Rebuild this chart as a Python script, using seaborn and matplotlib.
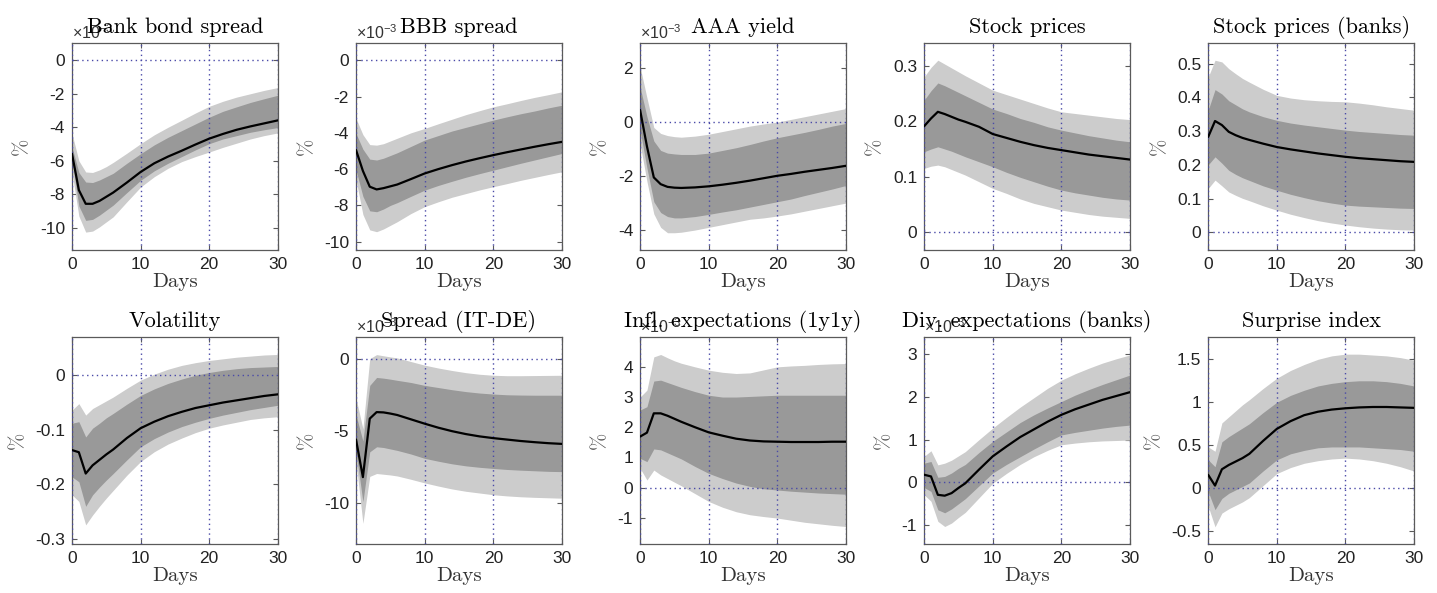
import numpy as np
import pandas as pd
import matplotlib
matplotlib.use("Agg")
import matplotlib.pyplot as plt
import seaborn as sns
from matplotlib.ticker import FuncFormatter

# ---------------- data ----------------
days = [0, 1, 2, 3, 4, 5, 6, 8, 10, 12, 14, 16, 18, 20, 22, 24, 26, 28, 30]

titles = ["Bank bond spread", "BBB spread", "AAA yield", "Stock prices", "Stock prices (banks)",
          "Volatility", "Spread (IT-DE)", "Infl. expectations (1y1y)", "Div. expectations (banks)",
          "Surprise index"]
exponents = [-3, -3, -3, None, None, None, -3, -3, -3, None]

# panel 1: Bank bond spread (x1e-3)
bank_mean = [-5.58, -7.75, -8.57, -8.57, -8.4, -8.15, -7.9, -7.3, -6.67, -6.15, -5.75, -5.4, -5.03, -4.68, -4.4, -4.15, -3.95, -3.77, -3.59]
bank_u68 = [-5.18, -6.7, -7.27, -7.3, -7.15, -6.95, -6.75, -6.15, -5.58, -5.05, -4.6, -4.2, -3.8, -3.4, -3.05, -2.78, -2.52, -2.3, -2.09]
bank_l68 = [-5.98, -8.7, -9.56, -9.5, -9.25, -8.95, -8.65, -7.9, -7.17, -6.6, -6.15, -5.75, -5.35, -4.98, -4.7, -4.5, -4.3, -4.15, -4.02]
bank_u90 = [-4.38, -6.0, -6.67, -6.7, -6.55, -6.35, -6.1, -5.55, -4.98, -4.45, -4.0, -3.58, -3.15, -2.75, -2.45, -2.2, -2.0, -1.8, -1.63]
bank_l90 = [-6.67, -9.3, -10.26, -10.2, -9.95, -9.65, -9.35, -8.45, -7.57, -6.95, -6.45, -6.05, -5.75, -5.48, -5.2, -4.95, -4.7, -4.5, -4.34]

# panel 2: BBB spread (x1e-3)
bbb_mean = [-4.95, -6.1, -6.97, -7.12, -7.05, -6.95, -6.85, -6.55, -6.24, -6.0, -5.78, -5.58, -5.4, -5.23, -5.07, -4.92, -4.77, -4.63, -4.5]
bbb_u68 = [-4.04, -4.9, -5.45, -5.5, -5.4, -5.25, -5.1, -4.75, -4.4, -4.15, -3.9, -3.7, -3.5, -3.3, -3.12, -2.95, -2.8, -2.63, -2.48]
bbb_l68 = [-6.06, -7.5, -8.3, -8.35, -8.2, -8.0, -7.85, -7.5, -7.16, -6.9, -6.67, -6.45, -6.25, -6.06, -5.87, -5.68, -5.5, -5.32, -5.14]
bbb_u90 = [-3.21, -4.1, -4.65, -4.68, -4.6, -4.45, -4.3, -4.0, -3.76, -3.5, -3.25, -3.0, -2.78, -2.57, -2.4, -2.22, -2.05, -1.9, -1.74]
bbb_l90 = [-6.6, -8.5, -9.35, -9.45, -9.3, -9.1, -8.9, -8.45, -8.07, -7.8, -7.55, -7.35, -7.15, -6.97, -6.8, -6.62, -6.46, -6.3, -6.15]

# panel 3: AAA yield (x1e-3)
aaa_mean = [0.45, -0.9, -2.05, -2.3, -2.4, -2.43, -2.44, -2.42, -2.38, -2.32, -2.25, -2.17, -2.08, -1.99, -1.92, -1.84, -1.77, -1.7, -1.62]
aaa_u68 = [1.3, 0.2, -0.7, -1.05, -1.15, -1.18, -1.2, -1.2, -1.15, -1.05, -0.95, -0.83, -0.7, -0.58, -0.48, -0.38, -0.27, -0.15, -0.05]
aaa_l68 = [-0.3, -1.7, -2.95, -3.35, -3.5, -3.55, -3.55, -3.5, -3.42, -3.33, -3.25, -3.15, -3.05, -2.95, -2.85, -2.72, -2.6, -2.48, -2.35]
aaa_u90 = [2.05, 0.9, -0.2, -0.42, -0.5, -0.54, -0.56, -0.52, -0.45, -0.35, -0.25, -0.15, -0.07, 0.0, 0.1, 0.2, 0.3, 0.4, 0.5]
aaa_l90 = [-0.8, -2.2, -3.4, -3.9, -4.1, -4.1, -4.08, -4.0, -3.9, -3.8, -3.7, -3.6, -3.55, -3.48, -3.4, -3.3, -3.2, -3.1, -3.0]

# panel 4: Stock prices
stk_mean = [0.191, 0.205, 0.217, 0.213, 0.208, 0.203, 0.199, 0.190, 0.177, 0.170, 0.163, 0.157, 0.152, 0.148, 0.144, 0.140, 0.137, 0.134, 0.131]
stk_u68 = [0.238, 0.255, 0.269, 0.264, 0.258, 0.252, 0.246, 0.234, 0.222, 0.214, 0.205, 0.198, 0.190, 0.184, 0.179, 0.174, 0.170, 0.166, 0.163]
stk_l68 = [0.145, 0.150, 0.154, 0.150, 0.146, 0.141, 0.136, 0.127, 0.118, 0.108, 0.099, 0.091, 0.083, 0.076, 0.071, 0.067, 0.063, 0.060, 0.058]
stk_u90 = [0.280, 0.297, 0.310, 0.303, 0.296, 0.289, 0.282, 0.269, 0.256, 0.248, 0.240, 0.232, 0.224, 0.217, 0.214, 0.211, 0.208, 0.205, 0.203]
stk_l90 = [0.115, 0.119, 0.121, 0.118, 0.113, 0.108, 0.103, 0.091, 0.079, 0.070, 0.060, 0.052, 0.046, 0.040, 0.036, 0.032, 0.029, 0.027, 0.025]

# panel 5: Stock prices (banks)
stb_mean = [0.283, 0.330, 0.318, 0.298, 0.288, 0.280, 0.274, 0.263, 0.253, 0.246, 0.240, 0.234, 0.229, 0.224, 0.220, 0.217, 0.214, 0.211, 0.209]
stb_u68 = [0.362, 0.423, 0.410, 0.390, 0.378, 0.366, 0.357, 0.343, 0.332, 0.324, 0.318, 0.313, 0.308, 0.303, 0.299, 0.296, 0.293, 0.290, 0.288]
stb_l68 = [0.200, 0.224, 0.205, 0.184, 0.172, 0.162, 0.154, 0.138, 0.125, 0.113, 0.103, 0.094, 0.087, 0.081, 0.078, 0.076, 0.074, 0.072, 0.071]
stb_u90 = [0.460, 0.510, 0.505, 0.485, 0.470, 0.456, 0.445, 0.424, 0.406, 0.398, 0.393, 0.390, 0.388, 0.387, 0.383, 0.378, 0.372, 0.367, 0.362]
stb_l90 = [0.130, 0.155, 0.138, 0.120, 0.110, 0.101, 0.094, 0.079, 0.066, 0.054, 0.044, 0.035, 0.028, 0.022, 0.017, 0.013, 0.010, 0.008, 0.007]

# panel 6: Volatility
vol_mean = [-0.137, -0.141, -0.180, -0.165, -0.155, -0.145, -0.136, -0.115, -0.097, -0.085, -0.075, -0.067, -0.060, -0.055, -0.050, -0.046, -0.042, -0.038, -0.035]
vol_u68 = [-0.088, -0.085, -0.113, -0.097, -0.088, -0.078, -0.070, -0.053, -0.037, -0.025, -0.015, -0.007, 0.000, 0.005, 0.009, 0.012, 0.014, 0.015, 0.016]
vol_l68 = [-0.186, -0.195, -0.240, -0.219, -0.205, -0.192, -0.180, -0.155, -0.131, -0.116, -0.104, -0.094, -0.086, -0.079, -0.073, -0.068, -0.063, -0.059, -0.055]
vol_u90 = [-0.064, -0.052, -0.073, -0.061, -0.054, -0.047, -0.040, -0.024, -0.009, 0.002, 0.011, 0.018, 0.023, 0.027, 0.030, 0.033, 0.035, 0.037, 0.038]
vol_l90 = [-0.219, -0.231, -0.274, -0.256, -0.240, -0.225, -0.211, -0.183, -0.158, -0.140, -0.126, -0.115, -0.105, -0.097, -0.091, -0.086, -0.081, -0.078, -0.076]

# panel 7: Spread (IT-DE) (x1e-3)
itde_mean = [-5.6, -8.2, -4.15, -3.7, -3.72, -3.8, -3.9, -4.2, -4.5, -4.78, -5.02, -5.22, -5.38, -5.5, -5.6, -5.7, -5.78, -5.85, -5.9]
itde_u68 = [-3.9, -5.7, -1.85, -1.3, -1.35, -1.42, -1.5, -1.65, -1.85, -2.0, -2.15, -2.28, -2.38, -2.45, -2.5, -2.52, -2.53, -2.53, -2.53]
itde_l68 = [-6.45, -9.9, -6.45, -6.1, -6.15, -6.25, -6.35, -6.6, -6.9, -7.1, -7.28, -7.42, -7.52, -7.6, -7.67, -7.72, -7.76, -7.8, -7.82]
itde_u90 = [-2.75, -4.85, 0.0, 0.28, 0.2, 0.12, 0.05, -0.2, -0.45, -0.65, -0.82, -0.97, -1.08, -1.15, -1.18, -1.18, -1.17, -1.16, -1.15]
itde_l90 = [-7.1, -11.4, -8.15, -7.95, -8.0, -8.05, -8.12, -8.35, -8.6, -8.82, -9.02, -9.18, -9.3, -9.42, -9.5, -9.56, -9.6, -9.63, -9.66]

# panel 8: Infl. expectations (1y1y) (x1e-3)
infl_mean = [1.69, 1.82, 2.46, 2.46, 2.38, 2.28, 2.18, 2.0, 1.83, 1.72, 1.62, 1.56, 1.53, 1.52, 1.51, 1.51, 1.51, 1.52, 1.52]
infl_u68 = [2.57, 2.68, 3.53, 3.56, 3.48, 3.4, 3.32, 3.18, 3.06, 3.0, 3.0, 3.02, 3.04, 3.06, 3.06, 3.06, 3.06, 3.06, 3.06]
infl_l68 = [0.97, 0.86, 1.28, 1.25, 1.15, 1.05, 0.95, 0.7, 0.47, 0.3, 0.15, 0.04, -0.04, -0.08, -0.12, -0.15, -0.18, -0.2, -0.22]
infl_u90 = [3.0, 3.23, 4.33, 4.41, 4.3, 4.2, 4.12, 4.0, 3.89, 3.82, 3.78, 3.8, 3.9, 4.0, 4.03, 4.05, 4.08, 4.1, 4.11]
infl_l90 = [0.64, 0.25, 0.58, 0.42, 0.3, 0.18, 0.06, -0.2, -0.46, -0.65, -0.8, -0.9, -0.96, -1.01, -1.08, -1.15, -1.2, -1.25, -1.29]

# panel 9: Div. expectations (banks) (x1e-3)
div_mean = [0.18, 0.14, -0.29, -0.31, -0.25, -0.13, -0.02, 0.3, 0.61, 0.84, 1.06, 1.24, 1.42, 1.58, 1.71, 1.82, 1.93, 2.02, 2.11]
div_u68 = [0.45, 0.49, 0.12, 0.14, 0.22, 0.33, 0.42, 0.7, 0.96, 1.18, 1.4, 1.58, 1.74, 1.89, 2.04, 2.17, 2.29, 2.4, 2.51]
div_l68 = [-0.12, -0.21, -0.64, -0.71, -0.62, -0.5, -0.38, -0.08, 0.22, 0.42, 0.6, 0.78, 0.95, 1.11, 1.17, 1.22, 1.27, 1.31, 1.34]
div_u90 = [0.61, 0.74, 0.41, 0.45, 0.52, 0.62, 0.72, 1.0, 1.27, 1.52, 1.76, 1.98, 2.2, 2.39, 2.54, 2.67, 2.79, 2.89, 2.98]
div_l90 = [-0.29, -0.44, -0.91, -1.03, -0.95, -0.82, -0.7, -0.36, -0.02, 0.21, 0.42, 0.6, 0.75, 0.88, 0.92, 0.95, 0.97, 0.98, 0.99]

# panel 10: Surprise index
sur_mean = [0.155, 0.03, 0.22, 0.27, 0.31, 0.35, 0.40, 0.55, 0.69, 0.78, 0.85, 0.89, 0.915, 0.93, 0.94, 0.945, 0.945, 0.94, 0.935]
sur_u68 = [0.33, 0.25, 0.54, 0.6, 0.65, 0.7, 0.75, 0.88, 1.0, 1.08, 1.14, 1.19, 1.22, 1.24, 1.25, 1.25, 1.24, 1.22, 1.19]
sur_l68 = [-0.04, -0.25, -0.12, -0.06, -0.02, 0.02, 0.06, 0.2, 0.33, 0.4, 0.44, 0.47, 0.48, 0.48, 0.48, 0.47, 0.46, 0.45, 0.43]
sur_u90 = [0.48, 0.43, 0.76, 0.83, 0.9, 0.97, 1.03, 1.16, 1.28, 1.37, 1.44, 1.5, 1.54, 1.56, 1.56, 1.55, 1.54, 1.52, 1.49]
sur_l90 = [-0.21, -0.45, -0.29, -0.24, -0.2, -0.16, -0.11, 0.03, 0.17, 0.24, 0.29, 0.32, 0.34, 0.35, 0.34, 0.32, 0.29, 0.25, 0.2]

series = [
    (bank_mean, bank_u68, bank_l68, bank_u90, bank_l90),
    (bbb_mean, bbb_u68, bbb_l68, bbb_u90, bbb_l90),
    (aaa_mean, aaa_u68, aaa_l68, aaa_u90, aaa_l90),
    (stk_mean, stk_u68, stk_l68, stk_u90, stk_l90),
    (stb_mean, stb_u68, stb_l68, stb_u90, stb_l90),
    (vol_mean, vol_u68, vol_l68, vol_u90, vol_l90),
    (itde_mean, itde_u68, itde_l68, itde_u90, itde_l90),
    (infl_mean, infl_u68, infl_l68, infl_u90, infl_l90),
    (div_mean, div_u68, div_l68, div_u90, div_l90),
    (sur_mean, sur_u68, sur_l68, sur_u90, sur_l90),
]

yticks = [
    [-10, -8, -6, -4, -2, 0],
    [-10, -8, -6, -4, -2, 0],
    [-4, -2, 0, 2],
    [0, 0.1, 0.2, 0.3],
    [0, 0.1, 0.2, 0.3, 0.4, 0.5],
    [-0.3, -0.2, -0.1, 0],
    [-10, -5, 0],
    [-1, 0, 1, 2, 3, 4],
    [-1, 0, 1, 2, 3],
    [-0.5, 0, 0.5, 1, 1.5],
]
ylims = [(-11.33, 1.03), (-10.46, 0.95), (-4.74, 2.93), (-0.032, 0.341), (-0.052, 0.561),
         (-0.309, 0.07), (-12.83, 1.5), (-1.87, 4.99), (-1.44, 3.4), (-0.65, 1.76)]
xticks = [0, 10, 20, 30]

# ---------------- style ----------------
sns.set_style("ticks")
plt.rcParams['font.family'] = ['Liberation Sans', 'DejaVu Sans']
plt.rcParams['axes.unicode_minus'] = False
plt.rcParams['mathtext.fontset'] = 'custom'
plt.rcParams['mathtext.rm'] = 'Liberation Sans'
plt.rcParams['mathtext.it'] = 'Liberation Sans'

LIGHT = '#cccccc'
DARK = '#999999'
GRIDC = '#4a4aa8'
SPINE = '#5a5a5a'
serif = ['cmr10', 'DejaVu Serif']

fig, axes = plt.subplots(2, 5, figsize=(14.37, 5.93), dpi=100)
fig.subplots_adjust(left=0.0501, right=0.984, bottom=0.0826, top=0.9275, wspace=0.38, hspace=0.42)

fmt = FuncFormatter(lambda v, p: f"{v:g}")

for i, ax in enumerate(axes.flat):
    m, u68, l68, u90, l90 = series[i]
    ax.fill_between(days, l90, u90, color=LIGHT, lw=0, zorder=1)
    ax.fill_between(days, l68, u68, color=DARK, lw=0, zorder=2)
    df = pd.DataFrame({"Days": days, "val": m})
    sns.lineplot(data=df, x="Days", y="val", ax=ax, color='black', lw=1.6, zorder=5)
    for xv in xticks:
        ax.axvline(xv, color=GRIDC, ls=(0, (1, 2.5)), lw=1.0, zorder=4)
    ax.axhline(0, color=GRIDC, ls=(0, (1, 2.5)), lw=1.0, zorder=4)
    ax.set_xlim(0, 30)
    ax.set_ylim(*ylims[i])
    ax.set_xticks(xticks)
    ax.set_yticks(yticks[i])
    ax.yaxis.set_major_formatter(fmt)
    ax.tick_params(direction='in', length=3.5, width=0.8, color=SPINE, labelsize=12.5,
                   labelcolor='#222222', top=True, right=True, pad=5)
    for s in ax.spines.values():
        s.set_color(SPINE)
        s.set_linewidth(0.9)
        s.set_visible(True)
    ax.set_xlabel("Days", fontsize=15, family=serif, color='#333333', labelpad=1)
    ax.set_ylabel("%", fontsize=15, family=serif, color='#555555', labelpad=6)
    ax.set_title(titles[i], fontsize=16, family=serif, color='black', pad=7)
    if exponents[i] is not None:
        ax.text(0.0, 1.005, r"$\times 10^{%d}$" % exponents[i], transform=ax.transAxes,
                ha='left', va='bottom', fontsize=11.5, color='#333333', zorder=0)

fig.savefig("out.png", dpi=100)
